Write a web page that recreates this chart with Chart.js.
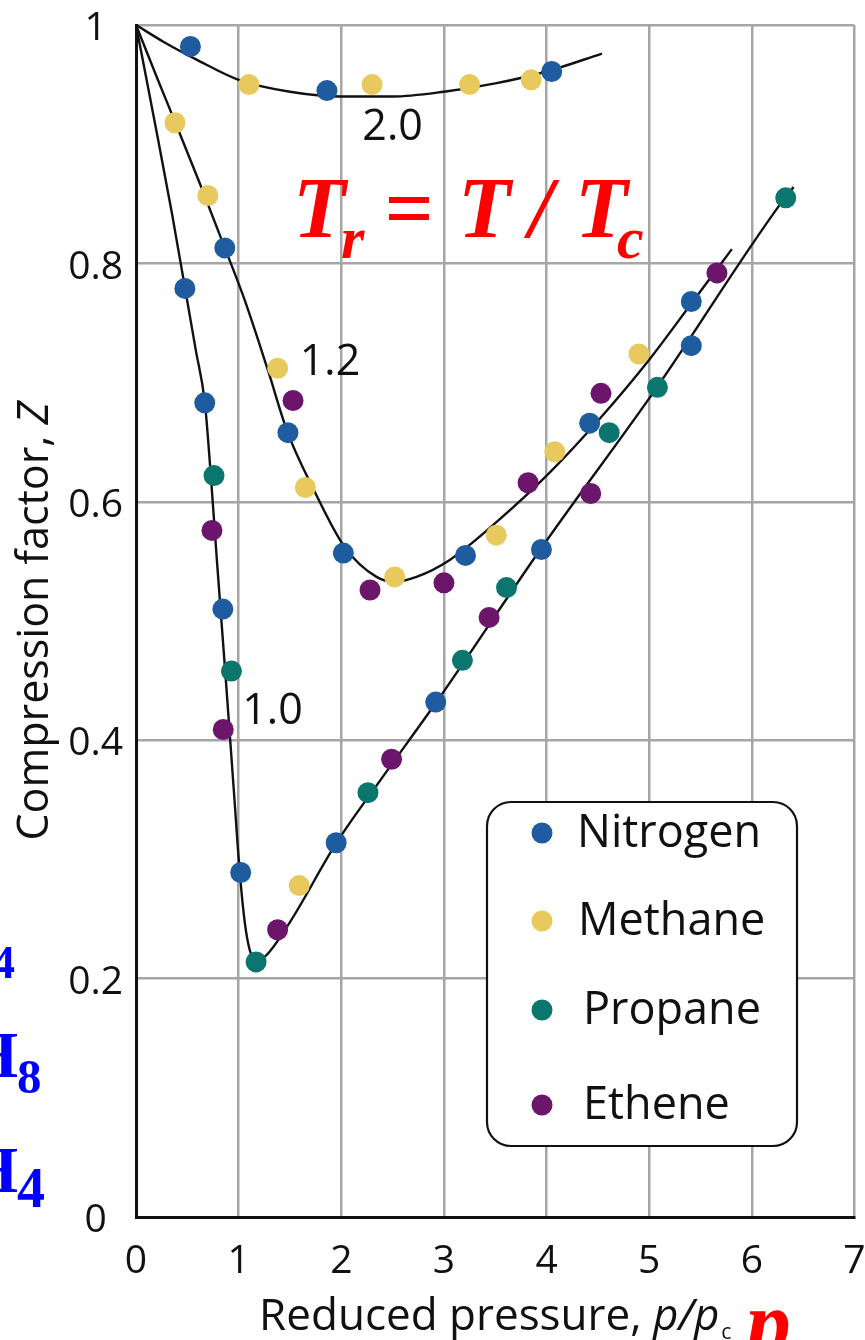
<!DOCTYPE html>
<html>
<head>
<meta charset="utf-8">
<title>Compression factor vs reduced pressure</title>
<script src="https://cdn.jsdelivr.net/npm/chart.js@4.4.0/dist/chart.umd.min.js"></script>
<style>
  html, body { margin: 0; padding: 0; background: #ffffff; }
  #wrap { width: 865px; height: 1340px; position: relative; }
  canvas { display: block; }
</style>
</head>
<body>
<div id="wrap"><canvas id="chart" width="865" height="1340"></canvas></div>
<script>
// ---- axis ticks ----
const xTickValues = [0, 1, 2, 3, 4, 5, 6, 7];
const yTickLabels = ['0', '0.2', '0.4', '0.6', '0.8', '1'];

// ---- measured gases: reduced pressure p/pc and compression factor Z ----
const nitrogenP = [0.53, 0.476, 0.865, 0.67, 0.846, 1.02, 1.48, 1.86, 1.95, 2.02, 2.92, 3.21, 3.95, 4.05, 4.42, 5.41, 5.41];
const nitrogenZ = [0.982, 0.779, 0.813, 0.683, 0.510, 0.289, 0.658, 0.945, 0.314, 0.557, 0.432, 0.555, 0.560, 0.961, 0.666, 0.768, 0.731];

const methaneP = [0.38, 0.70, 1.10, 1.38, 1.59, 1.65, 2.30, 2.52, 3.25, 3.51, 3.85, 4.08, 4.90];
const methaneZ = [0.918, 0.857, 0.950, 0.712, 0.278, 0.612, 0.950, 0.537, 0.950, 0.572, 0.954, 0.642, 0.724];

const propaneP = [0.76, 0.93, 1.17, 2.26, 3.18, 3.61, 4.61, 5.08, 6.33];
const propaneZ = [0.622, 0.458, 0.214, 0.356, 0.467, 0.528, 0.658, 0.696, 0.855];

const etheneP = [0.74, 0.85, 1.38, 1.53, 2.28, 2.49, 3.00, 3.44, 3.82, 4.43, 4.53, 5.66];
const etheneZ = [0.576, 0.409, 0.241, 0.685, 0.526, 0.384, 0.532, 0.503, 0.616, 0.607, 0.691, 0.792];

// ---- isotherms at reduced temperature Tr ----
const curve10P = [0, 0.204, 0.350, 0.476, 0.583, 0.671, 0.729, 0.788, 0.875, 0.953, 1.011, 1.060, 1.108, 1.167, 1.274, 1.497, 1.954, 2.402, 2.927, 3.948, 5.075, 6.330, 6.407];
const curve10Z = [1.000, 0.909, 0.842, 0.780, 0.727, 0.683, 0.622, 0.551, 0.451, 0.358, 0.289, 0.247, 0.224, 0.214, 0.220, 0.247, 0.314, 0.369, 0.432, 0.561, 0.696, 0.856, 0.864];

const curve12P = [0, 0.204, 0.379, 0.622, 0.865, 1.060, 1.283, 1.478, 1.721, 2.033, 2.343, 2.518, 2.732, 3.053, 3.539, 4.025, 4.511, 4.998, 5.416, 5.805];
const curve12Z = [1.000, 0.956, 0.919, 0.867, 0.813, 0.769, 0.711, 0.658, 0.612, 0.562, 0.537, 0.533, 0.537, 0.551, 0.585, 0.624, 0.669, 0.719, 0.767, 0.812];

const curve20P = [0, 0.266, 0.59, 1.0, 1.5, 2.0, 2.5, 3.0, 3.5, 4.0, 4.54];
const curve20Z = [1.000, 0.986, 0.971, 0.954, 0.944, 0.940, 0.940, 0.944, 0.951, 0.961, 0.976];

// isotherm captions and where they sit (data coordinates)
const curveNames  = ['1.0', '1.2', '2.0'];
const curveLabelP = [1.33, 1.89, 2.50];
const curveLabelZ = [0.424, 0.717, 0.914];

const FONT = '"Open Sans", "Liberation Sans", sans-serif';
const SERIF = '"Liberation Serif", "DejaVu Serif", serif';

function toPoints(px, pz) { return px.map((v, i) => ({ x: v, y: pz[i] })); }

const gases = [
  { label: 'Nitrogen', p: nitrogenP, z: nitrogenZ, color: '#1f5c9f', order: 2 },
  { label: 'Methane',  p: methaneP,  z: methaneZ,  color: '#e7c95d', order: 3 },
  { label: 'Propane',  p: propaneP,  z: propaneZ,  color: '#0b766d', order: 0 },
  { label: 'Ethene',   p: etheneP,   z: etheneZ,   color: '#6b156b', order: 1 }
];

const gasSets = gases.map(g => ({
  label: g.label,
  data: toPoints(g.p, g.z),
  showLine: false,
  pointRadius: 10.5,
  pointHoverRadius: 10.5,
  pointBorderWidth: 0,
  backgroundColor: g.color,
  borderColor: g.color,
  order: g.order,
  clip: false
}));

const curveSets = [[curve10P, curve10Z], [curve12P, curve12Z], [curve20P, curve20Z]].map((c, i) => ({
  label: 'Tr = ' + curveNames[i],
  data: toPoints(c[0], c[1]),
  showLine: true,
  pointRadius: 0,
  borderColor: '#111111',
  borderWidth: 2.4,
  cubicInterpolationMode: 'monotone',
  fill: false,
  order: 5,
  clip: false
}));

// legend box, isotherm captions, axis titles and slide annotations
const decorations = {
  id: 'decorations',
  afterDatasetsDraw(chart) {
    const ctx = chart.ctx;
    const xs = chart.scales.x, ys = chart.scales.y;
    ctx.save();

    // isotherm captions
    ctx.fillStyle = '#111111';
    ctx.font = '43px ' + FONT;
    ctx.textAlign = 'center';
    ctx.textBaseline = 'middle';
    curveNames.forEach((t, i) => {
      ctx.fillText(t, xs.getPixelForValue(curveLabelP[i]), ys.getPixelForValue(curveLabelZ[i]));
    });

    // legend
    const bx = 487, by = 802, bw = 310, bh = 344, r = 24;
    ctx.beginPath();
    ctx.roundRect(bx, by, bw, bh, r);
    ctx.fillStyle = '#ffffff';
    ctx.fill();
    ctx.lineWidth = 2.2;
    ctx.strokeStyle = '#111111';
    ctx.stroke();

    const rowY = [833, 921, 1010, 1105];
    const textX = [577, 578, 583, 583];
    ctx.font = '45px ' + FONT;
    ctx.textAlign = 'left';
    ctx.textBaseline = 'middle';
    gases.forEach((g, i) => {
      ctx.beginPath();
      ctx.arc(542, rowY[i], 10.5, 0, Math.PI * 2);
      ctx.fillStyle = g.color;
      ctx.fill();
      ctx.fillStyle = '#111111';
      ctx.fillText(g.label, textX[i], rowY[i] + 1);
    });
    ctx.restore();
  },
  afterDraw(chart) {
    const ctx = chart.ctx;
    const area = chart.chartArea;
    ctx.save();
    ctx.fillStyle = '#111111';
    ctx.textAlign = 'left';
    ctx.textBaseline = 'alphabetic';

    // x axis title: Reduced pressure, p/p_c
    const fMain = '44px ' + FONT, fIt = 'italic 44px ' + FONT, fSub = '21px ' + FONT;
    ctx.font = fMain; const w1 = ctx.measureText('Reduced pressure, ').width;
    ctx.font = fIt;   const w2 = ctx.measureText('p/p').width;
    ctx.font = fSub;  const w3 = ctx.measureText('c').width;
    const x0 = (area.left + area.right) / 2 - (w1 + w2 + w3 + 2) / 2;
    const base = 1330;
    ctx.font = fMain; ctx.fillText('Reduced pressure, ', x0, base);
    ctx.font = fIt;   ctx.fillText('p/p', x0 + w1, base);
    ctx.font = fSub;  ctx.fillText('c', x0 + w1 + w2 + 2, base + 9);

    // y axis title: Compression factor, Z
    const gMain = '43px ' + FONT, gIt = 'italic 43px ' + FONT;
    ctx.save();
    ctx.translate(48, (area.top + area.bottom) / 2);
    ctx.rotate(-Math.PI / 2);
    ctx.font = gMain; const v1 = ctx.measureText('Compression factor, ').width;
    ctx.font = gIt;   const v2 = ctx.measureText('Z').width;
    const s0 = -(v1 + v2) / 2;
    ctx.font = gMain; ctx.fillText('Compression factor, ', s0, 0);
    ctx.font = gIt;   ctx.fillText('Z', s0 + v1, 0);
    ctx.restore();

    // reduced temperature definition
    ctx.fillStyle = '#ff0000';
    const big = 'italic bold 86px ' + SERIF, small = 'italic bold 60px ' + SERIF;
    ctx.font = big;   ctx.fillText('T', 293, 237);
    ctx.font = small; ctx.fillText('r', 341, 258);
    ctx.font = big;   ctx.fillText('=', 384, 237);
    ctx.fillText('T', 458, 237);
    ctx.fillText('/', 529, 237);
    ctx.fillText('T', 575, 237);
    ctx.font = small; ctx.fillText('c', 617, 258);

    // reduced pressure symbol below the axis
    ctx.font = 'italic bold 90px ' + SERIF;
    ctx.fillText('p', 746, 1354);

    // gas formulas at the slide edge
    ctx.fillStyle = '#0000ff';
    ctx.textAlign = 'right';
    ctx.font = 'bold 66px ' + SERIF;
    ctx.fillText('CH', -8, 962);
    ctx.fillText('C', -60, 1077);
    ctx.fillText('H', 18, 1077);
    ctx.fillText('C', -60, 1192);
    ctx.fillText('H', 18, 1192);
    ctx.textAlign = 'left';
    ctx.font = 'bold 46px ' + SERIF;
    ctx.fillText('4', -8, 978);
    ctx.fillText('3', -58, 1093);
    ctx.fillText('2', -58, 1208);
    ctx.font = 'bold 49px ' + SERIF;
    ctx.fillText('8', 17, 1093);
    ctx.font = 'bold 56px ' + SERIF;
    ctx.fillText('4', 17, 1207);
    ctx.restore();
  }
};

new Chart(document.getElementById('chart'), {
  type: 'scatter',
  data: { datasets: gasSets.concat(curveSets) },
  options: {
    responsive: false,
    animation: false,
    devicePixelRatio: 1,
    layout: { padding: { top: 25, right: 9, left: 0, bottom: 0 } },
    plugins: {
      legend: { display: false },
      tooltip: { enabled: false },
      title: { display: false }
    },
    scales: {
      x: {
        type: 'linear',
        min: 0,
        max: 7,
        afterBuildTicks(s) { s.ticks = xTickValues.map(v => ({ value: v })); },
        ticks: {
          stepSize: 1,
          color: '#111111',
          font: { family: FONT, size: 39 },
          padding: 21,
          maxRotation: 0,
          autoSkip: false
        },
        grid: { color: '#a6a6a6', lineWidth: 2.5, drawTicks: false },
        border: { color: '#111111', width: 3 },
        afterFit(s) { s.height = 123; s.paddingLeft = 0; s.paddingRight = 0; }
      },
      y: {
        type: 'linear',
        min: 0,
        max: 1,
        ticks: {
          stepSize: 0.2,
          color: '#111111',
          font: { family: FONT, size: 39 },
          padding: 13,
          labelOffset: 4,
          crossAlign: 'center',
          callback: (v, i) => yTickLabels[i]
        },
        grid: { color: '#a6a6a6', lineWidth: 2.5, drawTicks: false },
        border: { color: '#111111', width: 3 },
        afterFit(s) { s.width = 136; s.paddingTop = 0; s.paddingBottom = 0; }
      }
    }
  },
  plugins: [decorations]
});
</script>
</body>
</html>
